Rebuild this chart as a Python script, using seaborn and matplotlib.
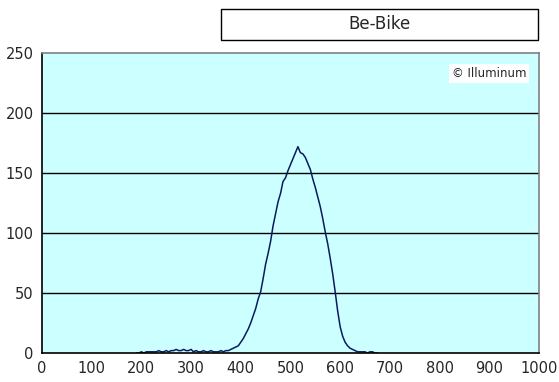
import numpy as np
import pandas as pd
import matplotlib
matplotlib.use("Agg")
import matplotlib.pyplot as plt
import seaborn as sns
from matplotlib.patches import Rectangle

# Distribution Be-Bike
x_vals = list(range(190, 680, 5))
counts = [0, 0, 1, 0, 1, 1, 1, 1, 1, 2,
          1, 1, 2, 1, 2, 2, 3, 2, 2, 3,
          2, 2, 3, 1, 2, 1, 1, 2, 1, 1,
          2, 1, 1, 1, 2, 1, 2, 2, 3, 4,
          5, 6, 9, 12, 16, 20, 25, 31, 37, 45,
          51, 62, 74, 83, 93, 106, 116, 126, 133, 143,
          146, 152, 157, 162, 167, 172, 167, 166, 163, 158,
          153, 145, 138, 130, 122, 112, 101, 91, 79, 66,
          51, 35, 22, 14, 9, 6, 4, 3, 2, 1,
          1, 1, 1, 0, 1, 1, 0, 0]
x_ticks = list(range(0, 1001, 100))
y_ticks = [0, 50, 100, 150, 200, 250]
title = "Be-Bike"
credit = "\u00a9 Illuminum"

df = pd.DataFrame({"x": x_vals, "count": counts})

sns.set_style("white")
plt.rcParams['font.family'] = ['DejaVu Sans Condensed', 'Liberation Sans Narrow', 'DejaVu Sans']

fig = plt.figure(figsize=(5.59, 3.82), dpi=100)
ax = fig.add_axes([0.0751, 0.0759, 0.889, 0.785])
ax.set_facecolor('#CCFFFF')

sns.lineplot(data=df, x="x", y="count", ax=ax, color='#0a1a60', lw=1.1)

ax.set_xlim(0, 1000)
ax.set_ylim(0, 250)
ax.set_xticks(x_ticks)
ax.set_yticks(y_ticks)
ax.set_xlabel('')
ax.set_ylabel('')
for y in y_ticks[1:-1]:
    ax.axhline(y, color='black', lw=1.0, zorder=1)
ax.tick_params(direction='in', length=4, color='black', labelsize=10.5, pad=6)
for s in ['left', 'bottom']:
    ax.spines[s].set_color('black')
    ax.spines[s].set_linewidth(1.2)
for s in ['top', 'right']:
    ax.spines[s].set_color('#808080')
    ax.spines[s].set_linewidth(1.2)

ax.text(0.975, 0.933, credit, transform=ax.transAxes, ha='right', va='center',
        fontsize=8.5, family=['DejaVu Sans'],
        bbox=dict(facecolor='white', edgecolor='none', pad=2))

# cadre du titre
fig.patches.append(Rectangle((0.395, 0.895), 0.567, 0.081, transform=fig.transFigure,
                             facecolor='white', edgecolor='black', lw=1))
fig.text(0.679, 0.936, title, ha='center', va='center', fontsize=12,
         family=['DejaVu Sans'])

plt.savefig('out.png', dpi=100)
